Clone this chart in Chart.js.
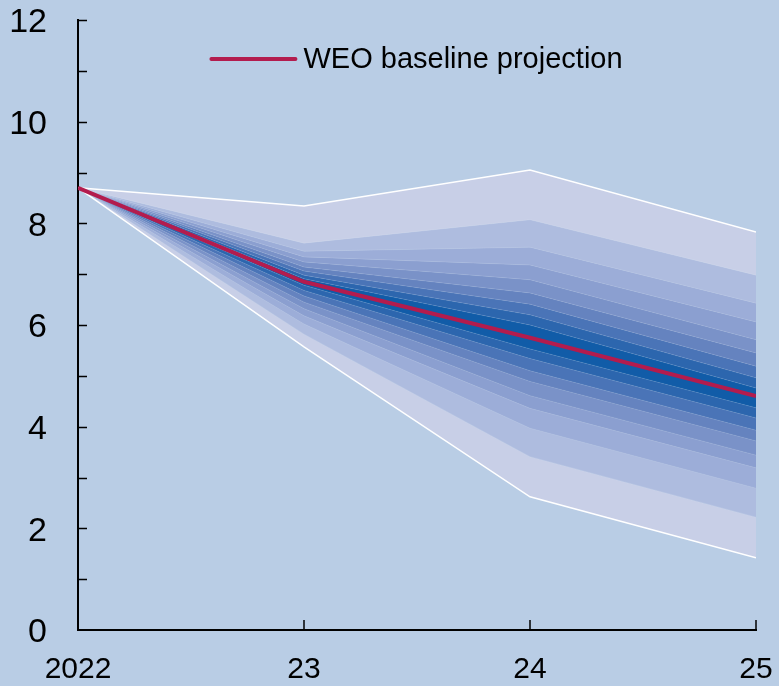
<!DOCTYPE html>
<html>
<head>
<meta charset="utf-8">
<title>WEO baseline projection fan chart</title>
<script src="https://cdn.jsdelivr.net/npm/chart.js@4.4.1/dist/chart.umd.min.js"></script>
<style>
  html, body { margin: 0; padding: 0; background: #b9cde5; }
  canvas { display: block; }
</style>
</head>
<body>
<canvas id="fan" width="779" height="686"></canvas>
<script>
// Projection years and their axis labels
const years = [2022, 2023, 2024, 2025];
const xTickLabels = ['2022', '23', '24', '25'];
const yTickLabels = ['0', '2', '4', '6', '8', '10', '12'];

// Central (baseline) projection
const baseline = [8.7, 6.85, 5.75, 4.6];

// Upper edges of the confidence bands, outermost first
const upper90 = [8.7, 8.34, 9.05, 7.83];
const upper80 = [8.7, 7.61, 8.07, 6.98];
const upper70 = [8.7, 7.45, 7.53, 6.43];
const upper60 = [8.7, 7.34, 7.18, 6.06];
const upper50 = [8.7, 7.24, 6.89, 5.71];
const upper40 = [8.7, 7.14, 6.63, 5.45];
const upper30 = [8.7, 7.06, 6.41, 5.19];
const upper20 = [8.7, 6.98, 6.20, 4.96];
const upper10 = [8.7, 6.91, 6.00, 4.76];

// Lower edges of the confidence bands, innermost first
const lower10 = [8.7, 6.78, 5.53, 4.37];
const lower20 = [8.7, 6.68, 5.34, 4.17];
const lower30 = [8.7, 6.57, 5.10, 3.93];
const lower40 = [8.7, 6.45, 4.89, 3.72];
const lower50 = [8.7, 6.32, 4.61, 3.44];
const lower60 = [8.7, 6.18, 4.36, 3.19];
const lower70 = [8.7, 6.02, 3.97, 2.79];
const lower80 = [8.7, 5.82, 3.41, 2.22];
const lower90 = [8.7, 5.57, 2.62, 1.42];

// Band shades from the centre outwards
const bandColors = ['#115ca8', '#2c66ae', '#4a74b7', '#6583bf', '#7a92c8',
                    '#8b9fd0', '#9cadd8', '#aebcdf', '#c8cfe7'];

const FONT = '"Liberation Sans", Arial, sans-serif';
const BG = '#b9cde5';
const RED = '#b31c4e';

const edges = [upper90, upper80, upper70, upper60, upper50, upper40, upper30, upper20, upper10,
               lower10, lower20, lower30, lower40, lower50, lower60, lower70, lower80, lower90];

const toPoints = arr => arr.map((v, i) => ({ x: years[i], y: v }));

const datasets = edges.map((arr, k) => {
  const outer = (k === 0 || k === edges.length - 1);
  const last = k === edges.length - 1;
  const dist = Math.abs(k - 8); // strip between edge k and k+1; strip 8 is the central one
  return {
    label: 'band' + k,
    data: toPoints(arr),
    borderColor: outer ? '#ffffff' : 'rgba(255,255,255,0.18)',
    borderWidth: outer ? 1.5 : 0.6,
    pointRadius: 0,
    tension: 0,
    fill: last ? false : '+1',
    backgroundColor: last ? 'transparent' : bandColors[dist]
  };
});

datasets.push({
  label: 'WEO baseline projection',
  data: toPoints(baseline),
  borderColor: RED,
  backgroundColor: RED,
  borderWidth: 4,
  pointRadius: 0,
  tension: 0,
  fill: false,
  order: -1
});

// Page background
const bgPlugin = {
  id: 'bg',
  beforeDraw(chart) {
    const c = chart.ctx;
    c.save();
    c.fillStyle = BG;
    c.fillRect(0, 0, chart.width, chart.height);
    c.restore();
  }
};

// Inward tick marks on both axes
const tickPlugin = {
  id: 'inTicks',
  afterDraw(chart) {
    const c = chart.ctx;
    const xs = chart.scales.x, ys = chart.scales.y;
    const x0 = xs.getPixelForValue(years[0]);
    const y0 = ys.getPixelForValue(0);
    c.save();
    c.strokeStyle = '#000';
    c.lineWidth = 1.5;
    c.beginPath();
    for (let v = 1; v <= 12; v++) {
      const py = Math.round(ys.getPixelForValue(v)) + 0.5;
      c.moveTo(x0, py);
      c.lineTo(x0 + 9, py);
    }
    for (let i = 1; i < years.length; i++) {
      const px = Math.round(xs.getPixelForValue(years[i]));
      c.moveTo(px, y0);
      c.lineTo(px, y0 - 10);
    }
    c.stroke();
    c.restore();
  }
};

// Legend entry for the baseline line, centred over the plot
const legendPlugin = {
  id: 'lineLegend',
  afterDraw(chart) {
    const c = chart.ctx;
    const area = chart.chartArea;
    const text = datasets[datasets.length - 1].label;
    c.save();
    c.font = '29px ' + FONT;
    const tw = c.measureText(text).width;
    const lineLen = 84, gap = 8;
    const total = lineLen + gap + tw;
    const left = (area.left + area.right) / 2 - total / 2;
    const cy = area.top + 39;
    c.strokeStyle = RED;
    c.lineWidth = 4;
    c.lineCap = 'round';
    c.beginPath();
    c.moveTo(left, cy);
    c.lineTo(left + lineLen, cy);
    c.stroke();
    c.fillStyle = '#000';
    c.textBaseline = 'alphabetic';
    c.fillText(text, left + lineLen + gap, cy + 9);
    c.restore();
  }
};

new Chart(document.getElementById('fan'), {
  type: 'line',
  data: { datasets },
  options: {
    responsive: false,
    animation: false,
    devicePixelRatio: 1,
    layout: { padding: { top: 20, right: 23, left: 0, bottom: 0 } },
    plugins: {
      legend: { display: false },
      tooltip: { enabled: false },
      filler: { drawTime: 'beforeDatasetsDraw' }
    },
    scales: {
      x: {
        type: 'linear',
        min: years[0],
        max: years[years.length - 1],
        grid: { display: false, drawTicks: false },
        border: { display: true, color: '#000', width: 2 },
        ticks: {
          stepSize: 1,
          padding: 22,
          color: '#000',
          font: { family: FONT, size: 30 },
          maxRotation: 0,
          autoSkip: false,
          callback: v => { const i = years.indexOf(v); return i >= 0 ? xTickLabels[i] : ''; }
        },
        afterFit: s => { s.height = 56; s.paddingLeft = 0; s.paddingRight = 0; }
      },
      y: {
        min: 0,
        max: 12,
        grid: { display: false, drawTicks: false },
        border: { display: true, color: '#000', width: 2 },
        ticks: {
          stepSize: 2,
          padding: 31,
          labelOffset: 3,
          color: '#000',
          font: { family: FONT, size: 34 },
          callback: v => yTickLabels[v / 2]
        },
        afterFit: s => { s.width = 78; s.paddingTop = 0; s.paddingBottom = 0; }
      }
    }
  },
  plugins: [bgPlugin, tickPlugin, legendPlugin]
});
</script>
</body>
</html>
